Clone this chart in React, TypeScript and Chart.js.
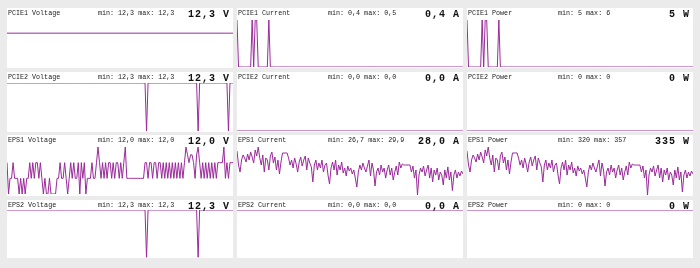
import React, { useEffect, useRef } from "react";
import { Chart, registerables } from "chart.js";

Chart.register(...registerables);

// ---- text ----
const titles = [
  "PCIE1 Voltage", "PCIE1 Current", "PCIE1 Power",
  "PCIE2 Voltage", "PCIE2 Current", "PCIE2 Power",
  "EPS1 Voltage", "EPS1 Current", "EPS1 Power",
  "EPS2 Voltage", "EPS2 Current", "EPS2 Power",
];
const minLabels = ["12,3", "0,4", "5", "12,3", "0,0", "0", "12,0", "26,7", "320", "12,3", "0,0", "0"];
const maxLabels = ["12,3", "0,5", "6", "12,3", "0,0", "0", "12,0", "29,9", "357", "12,3", "0,0", "0"];
const currentLabels = ["12,3", "0,4", "5", "12,3", "0,0", "0", "12,0", "28,0", "335", "12,3", "0,0", "0"];
const units = ["V", "A", "W", "V", "A", "W", "V", "A", "W", "V", "A", "W"];

// ---- series ----
const pcie1Voltage = [12.3, 12.3];
const pcie1Current = [
  0.5, 0.4, 0.4, 0.4, 0.4, 0.4, 0.4, 0.4, 0.4, 0.4,
  0.5, 0.4, 0.5, 0.5, 0.4, 0.4, 0.4, 0.4, 0.4, 0.4,
  0.4, 0.5, 0.4, 0.4, 0.4, 0.4, 0.4, 0.4, 0.4, 0.4,
  0.4, 0.4, 0.4, 0.4, 0.4, 0.4, 0.4, 0.4, 0.4, 0.4,
  0.4, 0.4, 0.4, 0.4, 0.4, 0.4, 0.4, 0.4, 0.4, 0.4,
  0.4, 0.4, 0.4, 0.4, 0.4, 0.4, 0.4, 0.4, 0.4, 0.4,
  0.4, 0.4, 0.4, 0.4, 0.4, 0.4, 0.4, 0.4, 0.4, 0.4,
  0.4, 0.4, 0.4, 0.4, 0.4, 0.4, 0.4, 0.4, 0.4, 0.4,
  0.4, 0.4, 0.4, 0.4, 0.4, 0.4, 0.4, 0.4, 0.4, 0.4,
  0.4, 0.4, 0.4, 0.4, 0.4, 0.4, 0.4, 0.4, 0.4, 0.4,
  0.4, 0.4, 0.4, 0.4, 0.4, 0.4, 0.4, 0.4, 0.4, 0.4,
  0.4, 0.4, 0.4, 0.4, 0.4, 0.4, 0.4, 0.4, 0.4, 0.4,
  0.4, 0.4, 0.4, 0.4, 0.4, 0.4, 0.4, 0.4, 0.4, 0.4,
  0.4, 0.4, 0.4, 0.4, 0.4, 0.4, 0.4, 0.4, 0.4, 0.4,
  0.4, 0.4, 0.4, 0.4, 0.4, 0.4, 0.4, 0.4, 0.4, 0.4,
];
const pcie1Power = [
  6, 5, 5, 5, 5, 5, 5, 5, 5, 5,
  6, 5, 6, 6, 5, 5, 5, 5, 5, 5,
  5, 6, 5, 5, 5, 5, 5, 5, 5, 5,
  5, 5, 5, 5, 5, 5, 5, 5, 5, 5,
  5, 5, 5, 5, 5, 5, 5, 5, 5, 5,
  5, 5, 5, 5, 5, 5, 5, 5, 5, 5,
  5, 5, 5, 5, 5, 5, 5, 5, 5, 5,
  5, 5, 5, 5, 5, 5, 5, 5, 5, 5,
  5, 5, 5, 5, 5, 5, 5, 5, 5, 5,
  5, 5, 5, 5, 5, 5, 5, 5, 5, 5,
  5, 5, 5, 5, 5, 5, 5, 5, 5, 5,
  5, 5, 5, 5, 5, 5, 5, 5, 5, 5,
  5, 5, 5, 5, 5, 5, 5, 5, 5, 5,
  5, 5, 5, 5, 5, 5, 5, 5, 5, 5,
  5, 5, 5, 5, 5, 5, 5, 5, 5, 5,
];
const pcie2Voltage = [
  12.3, 12.3, 12.3, 12.3, 12.3, 12.3, 12.3, 12.3, 12.3, 12.3,
  12.3, 12.3, 12.3, 12.3, 12.3, 12.3, 12.3, 12.3, 12.3, 12.3,
  12.3, 12.3, 12.3, 12.3, 12.3, 12.3, 12.3, 12.3, 12.3, 12.3,
  12.3, 12.3, 12.3, 12.3, 12.3, 12.3, 12.3, 12.3, 12.3, 12.3,
  12.3, 12.3, 12.3, 12.3, 12.3, 12.3, 12.3, 12.3, 12.3, 12.3,
  12.3, 12.3, 12.3, 12.3, 12.3, 12.3, 12.3, 12.3, 12.3, 12.3,
  12.3, 12.3, 12.3, 12.3, 12.3, 12.3, 12.3, 12.3, 12.3, 12.3,
  12.3, 12.3, 12.3, 12.3, 12.3, 12.3, 12.3, 12.3, 12.3, 12.3,
  12.3, 12.3, 12.3, 12.3, 12.3, 12.3, 12.3, 12.3, 12.3, 12.3,
  12.3, 12.3, 0, 12.3, 12.3, 12.3, 12.3, 12.3, 12.3, 12.3,
  12.3, 12.3, 12.3, 12.3, 12.3, 12.3, 12.3, 12.3, 12.3, 12.3,
  12.3, 12.3, 12.3, 12.3, 12.3, 12.3, 12.3, 12.3, 12.3, 12.3,
  12.3, 12.3, 12.3, 12.3, 12.3, 12.3, 0, 12.3, 12.3, 12.3,
  12.3, 12.3, 12.3, 12.3, 12.3, 12.3, 12.3, 12.3, 12.3, 12.3,
  12.3, 12.3, 12.3, 12.3, 12.3, 12.3, 0, 12.3, 12.3, 12.3,
];
const pcie2Current = [0, 0];
const pcie2Power = [0, 0];
const eps1Voltage = [
  12.02, 11.98, 12.0, 12.0, 12.02, 12.0, 12.0, 12.0, 11.98, 12.0,
  11.98, 12.0, 11.98, 12.0, 12.0, 12.02, 12.0, 12.02, 12.0, 12.02,
  12.02, 12.0, 12.02, 12.0, 11.98, 12.0, 11.98, 11.98, 12.0, 11.98,
  11.98, 11.98, 11.98, 12.0, 12.0, 12.02, 12.0, 12.0, 12.02, 12.0,
  11.98, 12.0, 12.02, 12.0, 12.02, 12.0, 12.0, 12.02, 11.98, 12.02,
  12.0, 12.02, 11.98, 12.0, 12.0, 12.0, 12.02, 12.0, 12.0, 12.02,
  12.04, 12.02, 12.0, 12.02, 12.0, 12.02, 12.0, 12.02, 12.02, 12.0,
  12.02, 12.0, 12.02, 12.02, 12.0, 12.02, 12.0, 12.02, 12.04, 12.0,
  12.0, 12.0, 12.0, 12.0, 12.0, 12.0, 12.0, 12.0, 12.0, 12.0,
  12.0, 12.02, 12.02, 12.0, 12.02, 12.02, 12.0, 12.02, 12.02, 12.0,
  12.02, 12.02, 12.0, 12.02, 12.0, 12.02, 12.0, 12.02, 12.0, 12.02,
  12.0, 12.02, 12.0, 12.02, 12.0, 12.02, 12.0, 12.02, 12.04, 12.03,
  12.02, 12.03, 12.03, 12.02, 12.0, 12.03, 12.04, 12.02, 12.0, 12.02,
  12.0, 12.02, 12.0, 12.02, 12.0, 12.02, 12.0, 12.02, 12.0, 12.02,
  12.02, 12.02, 12.02, 12.04, 12.0, 12.02, 12.0, 12.02, 12.02, 12.02,
];
const eps1Current = [
  29.63, 28.7, 28.23, 29.03, 29.37, 29.17, 28.9, 29.43, 29.03, 29.57,
  29.23, 28.83, 29.7, 29.3, 29.9, 29.17, 28.7, 29.37, 28.23, 29.17,
  29.03, 28.37, 29.3, 29.57, 28.83, 29.23, 28.37, 29.03, 28.1, 28.9,
  29.5, 29.5, 29.5, 29.5, 29.17, 28.7, 29.03, 28.5, 29.17, 28.77,
  28.23, 28.9, 29.23, 28.63, 29.03, 29.3, 28.37, 29.17, 28.83, 28.57,
  27.57, 28.7, 29.03, 28.37, 28.83, 28.5, 29.03, 28.23, 28.7, 28.83,
  28.03, 27.43, 28.5, 28.9, 28.37, 29.03, 28.03, 28.7, 28.37, 28.9,
  28.17, 28.5, 27.97, 28.63, 28.3, 28.5, 28.1, 28.37, 27.83, 27.23,
  28.23, 28.7, 28.37, 28.83, 28.5, 28.23, 28.63, 29.03, 27.97, 28.83,
  28.37, 27.3, 28.23, 28.5, 28.03, 28.7, 28.23, 28.5, 27.83, 28.37,
  28.7, 28.03, 28.5, 27.7, 28.23, 28.63, 28.03, 28.9, 28.5, 28.77,
  28.7, 28.7, 28.7, 28.7, 28.7, 28.23, 28.63, 27.83, 28.37, 26.7,
  28.03, 28.5, 28.23, 28.63, 27.97, 28.37, 28.7, 27.83, 28.5, 27.57,
  28.37, 28.03, 28.5, 27.7, 28.23, 28.03, 27.37, 28.37, 27.83, 28.57,
  27.7, 28.23, 27.0, 28.03, 28.37, 27.83, 28.23, 27.97, 28.3, 28.1,
];
const eps1Power = [
  353.9, 343.1, 337.7, 347.0, 350.8, 348.5, 345.4, 351.6, 347.0, 353.1,
  349.3, 344.7, 354.7, 350.1, 357.0, 348.5, 343.1, 350.8, 337.7, 348.5,
  347.0, 339.3, 350.1, 353.1, 344.7, 349.3, 339.3, 347.0, 336.2, 345.4,
  352.4, 352.4, 352.4, 352.4, 348.5, 343.1, 347.0, 340.8, 348.5, 343.9,
  337.7, 345.4, 349.3, 342.4, 347.0, 350.1, 339.3, 348.5, 344.7, 341.6,
  330.0, 343.1, 347.0, 339.3, 344.7, 340.8, 347.0, 337.7, 343.1, 344.7,
  335.4, 328.5, 340.8, 345.4, 339.3, 347.0, 335.4, 343.1, 339.3, 345.4,
  337.0, 340.8, 334.6, 342.4, 338.5, 340.8, 336.2, 339.3, 333.1, 326.2,
  337.7, 343.1, 339.3, 344.7, 340.8, 337.7, 342.4, 347.0, 334.6, 344.7,
  339.3, 326.9, 337.7, 340.8, 335.4, 343.1, 337.7, 340.8, 333.1, 339.3,
  343.1, 335.4, 340.8, 331.6, 337.7, 342.4, 335.4, 345.4, 340.8, 343.9,
  343.1, 343.1, 343.1, 343.1, 343.1, 337.7, 342.4, 333.1, 339.3, 320.0,
  335.4, 340.8, 337.7, 342.4, 334.6, 339.3, 343.1, 333.1, 340.8, 330.0,
  339.3, 335.4, 340.8, 331.6, 337.7, 335.4, 327.7, 339.3, 333.1, 341.6,
  331.6, 337.7, 322.3, 335.4, 339.3, 333.1, 337.7, 334.6, 338.5, 336.2,
];
const eps2Voltage = [
  12.3, 12.3, 12.3, 12.3, 12.3, 12.3, 12.3, 12.3, 12.3, 12.3,
  12.3, 12.3, 12.3, 12.3, 12.3, 12.3, 12.3, 12.3, 12.3, 12.3,
  12.3, 12.3, 12.3, 12.3, 12.3, 12.3, 12.3, 12.3, 12.3, 12.3,
  12.3, 12.3, 12.3, 12.3, 12.3, 12.3, 12.3, 12.3, 12.3, 12.3,
  12.3, 12.3, 12.3, 12.3, 12.3, 12.3, 12.3, 12.3, 12.3, 12.3,
  12.3, 12.3, 12.3, 12.3, 12.3, 12.3, 12.3, 12.3, 12.3, 12.3,
  12.3, 12.3, 12.3, 12.3, 12.3, 12.3, 12.3, 12.3, 12.3, 12.3,
  12.3, 12.3, 12.3, 12.3, 12.3, 12.3, 12.3, 12.3, 12.3, 12.3,
  12.3, 12.3, 12.3, 12.3, 12.3, 12.3, 12.3, 12.3, 12.3, 12.3,
  12.3, 12.3, 0, 12.3, 12.3, 12.3, 12.3, 12.3, 12.3, 12.3,
  12.3, 12.3, 12.3, 12.3, 12.3, 12.3, 12.3, 12.3, 12.3, 12.3,
  12.3, 12.3, 12.3, 12.3, 12.3, 12.3, 12.3, 12.3, 12.3, 12.3,
  12.3, 12.3, 12.3, 12.3, 12.3, 12.3, 0, 12.3, 12.3, 12.3,
  12.3, 12.3, 12.3, 12.3, 12.3, 12.3, 12.3, 12.3, 12.3, 12.3,
  12.3, 12.3, 12.3, 12.3, 12.3, 12.3, 12.3, 12.3, 12.3, 12.3,
];
const eps2Current = [0, 0];
const eps2Power = [0, 0];

const seriesList = [
  pcie1Voltage, pcie1Current, pcie1Power,
  pcie2Voltage, pcie2Current, pcie2Power,
  eps1Voltage, eps1Current, eps1Power,
  eps2Voltage, eps2Current, eps2Power,
];

// y-axis ranges of each small chart
const yMins = [11.63, 0.4, 5, 0, 0, 0, 11.98, 26.7, 320, 0, -1, -1];
const yMaxs = [12.63, 0.5, 6, 12.3, 1, 1, 12.04, 29.9, 357, 12.3, 0, 0];

// ---- layout ----
const COL_LEFT = [7, 237, 467];
const ROW_TOP = [8, 72, 135, 200];
const ROW_H = [60, 60, 61, 58];
const PANEL_W = 226;
const CANVAS_OFFSET = 8;
const PAD_TOP = [0, 4, 4, 3, 3, 3, 4, 4, 4, 2, 2, 2];
const PAD_BOTTOM = [0, 1, 1, 1, 1.5, 1.5, 2, 1, 1, 0.5, 0.5, 0.5];

const LINE_COLOR = "#9a2a9a";
const FONT = "'Liberation Mono', 'DejaVu Sans Mono', monospace";

function MiniChart(props: {
  data: number[];
  yMin: number;
  yMax: number;
  padTop: number;
  padBottom: number;
  width: number;
  height: number;
}) {
  const ref = useRef<HTMLCanvasElement>(null);
  useEffect(() => {
    const chart = new Chart(ref.current as HTMLCanvasElement, {
      type: "line",
      data: {
        labels: props.data.map((_, i) => String(i)),
        datasets: [
          {
            data: props.data,
            borderColor: LINE_COLOR,
            borderWidth: 1,
            pointRadius: 0,
            tension: 0,
            fill: false,
          },
        ],
      },
      options: {
        animation: false,
        responsive: false,
        maintainAspectRatio: false,
        events: [],
        layout: { padding: { top: props.padTop, bottom: props.padBottom, left: 0, right: 0 } },
        plugins: { legend: { display: false }, tooltip: { enabled: false }, title: { display: false } },
        scales: {
          x: { display: false, offset: false },
          y: { display: false, min: props.yMin, max: props.yMax },
        },
      },
    });
    return () => chart.destroy();
  }, []);
  return (
    <canvas
      ref={ref}
      width={props.width}
      height={props.height}
      style={{ position: "absolute", left: 0, top: CANVAS_OFFSET, display: "block" }}
    />
  );
}

export default function App() {
  return (
    <div
      style={{
        position: "absolute",
        left: 0,
        top: 0,
        width: 700,
        height: 268,
        background: "#ebebeb",
        overflow: "hidden",
      }}
    >
      {titles.map((title, k) => {
        const r = Math.floor(k / 3);
        const c = k % 3;
        const h = ROW_H[r];
        return (
          <div
            key={title}
            style={{
              position: "absolute",
              left: COL_LEFT[c],
              top: ROW_TOP[r],
              width: PANEL_W,
              height: h,
              background: "#ffffff",
              overflow: "hidden",
            }}
          >
            <MiniChart
              data={seriesList[k]}
              yMin={yMins[k]}
              yMax={yMaxs[k]}
              padTop={PAD_TOP[k]}
              padBottom={PAD_BOTTOM[k]}
              width={PANEL_W}
              height={h - CANVAS_OFFSET}
            />
            <div
              style={{
                position: "absolute",
                left: 1,
                top: 2,
                fontFamily: FONT,
                fontSize: 6.7,
                lineHeight: 1,
                color: "#222",
                whiteSpace: "pre",
              }}
            >
              {title}
            </div>
            <div
              style={{
                position: "absolute",
                left: 91,
                top: 2,
                fontFamily: FONT,
                fontSize: 6.7,
                lineHeight: 1,
                color: "#222",
                whiteSpace: "pre",
              }}
            >
              {"min: " + minLabels[k] + " max: " + maxLabels[k]}
            </div>
            <div
              style={{
                position: "absolute",
                right: 3,
                top: 2,
                fontFamily: FONT,
                fontSize: 10,
                fontWeight: "bold",
                letterSpacing: 1,
                lineHeight: 1,
                color: "#111",
                whiteSpace: "pre",
              }}
            >
              {currentLabels[k] + " " + units[k]}
            </div>
          </div>
        );
      })}
    </div>
  );
}
